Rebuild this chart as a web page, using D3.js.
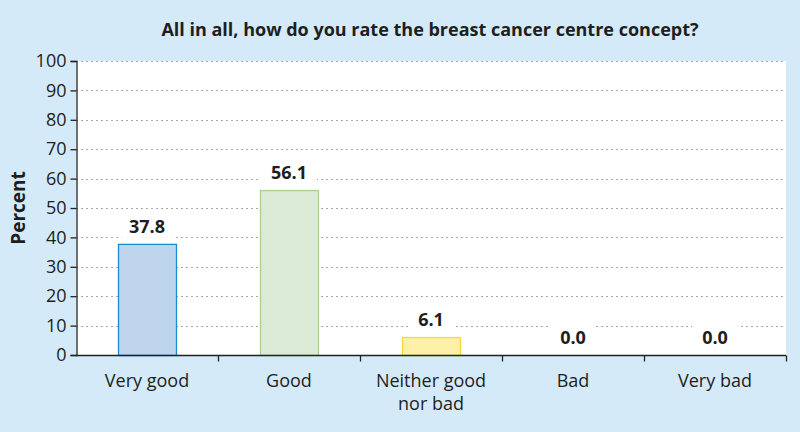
<!DOCTYPE html>
<html>
<head>
<meta charset="utf-8">
<script src="https://cdn.jsdelivr.net/npm/d3@7"></script>
<style>
html,body{margin:0;padding:0;background:#d5eaf8;}
svg{display:block;}
text{font-family:"Open Sans","DejaVu Sans",sans-serif;fill:#1e1e1e;}
</style>
</head>
<body>
<svg id="chart" width="800" height="432"></svg>
<script>
const title = "All in all, how do you rate the breast cancer centre concept?";
const categories = [["Very good"], ["Good"], ["Neither good", "nor bad"], ["Bad"], ["Very bad"]];
const values = [37.8, 56.1, 6.1, 0.0, 0.0];
const fills = ["#bfd5ed", "#dcebd5", "#fdf1a9", "#ffffff", "#ffffff"];
const strokes = ["#1b8ad3", "#a9d28e", "#f3dc2f", "none", "none"];
const yTicks = [0, 10, 20, 30, 40, 50, 60, 70, 80, 90, 100];
const yLabel = "Percent";

const svg = d3.select("#chart");
const W = 800, H = 432;
const m = {left: 76, right: 14, top: 61, bottom: 77};
const iw = W - m.left - m.right, ih = H - m.top - m.bottom;

svg.append("rect").attr("width", W).attr("height", H).attr("fill", "#d5eaf8");

const x = d3.scaleBand().domain(d3.range(categories.length)).range([m.left, m.left + iw]).paddingInner(0).paddingOuter(0);
const y = d3.scaleLinear().domain([0, 100]).range([m.top + ih, m.top]);

svg.append("rect").attr("x", m.left).attr("y", m.top).attr("width", iw).attr("height", ih).attr("fill", "#fff");

// grid
svg.append("g").selectAll("line").data(yTicks.filter(d => d > 0)).join("line")
  .attr("x1", m.left).attr("x2", m.left + iw)
  .attr("y1", d => Math.round(y(d)) + 0.5).attr("y2", d => Math.round(y(d)) + 0.5)
  .attr("stroke", "#a8a8a8").attr("stroke-width", 1).attr("stroke-dasharray", "2,3");

// bars
const bw = 58;
svg.append("g").selectAll("rect").data(values).join("rect")
  .attr("x", (d, i) => x(i) + x.bandwidth() / 2 - bw / 2 + 0.5)
  .attr("y", d => y(d) + 0.5)
  .attr("width", bw)
  .attr("height", d => Math.max(0, y(0) - y(d)))
  .attr("fill", (d, i) => fills[i])
  .attr("stroke", (d, i) => strokes[i])
  .attr("stroke-width", 1.3)
  .attr("display", d => d > 0 ? null : "none");

// value labels with white background
const lg = svg.append("g");
values.forEach((v, i) => {
  const cx = x(i) + x.bandwidth() / 2;
  const by = y(v) - 11;
  const t = lg.append("text").attr("x", cx).attr("y", by).attr("text-anchor", "middle")
    .attr("font-size", 18).attr("font-weight", "bold").text(v.toFixed(1));
  const bb = t.node().getBBox();
  lg.insert("rect", "text").attr("x", bb.x - 10).attr("y", bb.y).attr("width", bb.width + 20).attr("height", bb.height).attr("fill", "#fff");
});

// y axis
const yAxis = d3.axisLeft(y).tickValues(yTicks).tickSize(6).tickPadding(4);
const gy = svg.append("g").attr("transform", `translate(${m.left + 0.5},0)`).call(yAxis);
gy.select(".domain").attr("stroke", "#222").attr("stroke-width", 1.3);
gy.selectAll(".tick line").attr("stroke", "#222").attr("stroke-width", 1.3);
gy.selectAll(".tick text").attr("font-size", 18).attr("fill", "#1e1e1e").attr("font-family", "Open Sans");

// x axis
const gx = svg.append("g").attr("transform", `translate(0,${m.top + ih + 0.5})`);
gx.append("line").attr("x1", m.left).attr("x2", m.left + iw).attr("stroke", "#222").attr("stroke-width", 1.3);
gx.selectAll("line.tk").data(d3.range(1, categories.length + 1)).join("line").attr("class", "tk")
  .attr("x1", i => (i < categories.length ? x(i) : m.left + iw) + 0.5)
  .attr("x2", i => (i < categories.length ? x(i) : m.left + iw) + 0.5)
  .attr("y1", 0).attr("y2", 6).attr("stroke", "#222").attr("stroke-width", 1.3);
categories.forEach((lines, i) => {
  lines.forEach((l, j) => gx.append("text").attr("x", x(i) + x.bandwidth() / 2)
    .attr("y", 31 + j * 23).attr("text-anchor", "middle").attr("font-size", 18).text(l));
});

// y label
svg.append("text").attr("transform", `translate(25,${y(50)}) rotate(-90)`).attr("text-anchor", "middle")
  .attr("font-size", 19).attr("font-weight", "bold").text(yLabel);

// title
svg.append("text").attr("x", 430).attr("y", 36).attr("text-anchor", "middle")
  .attr("font-size", 18).attr("font-weight", "bold").text(title);
</script>
</body>
</html>
